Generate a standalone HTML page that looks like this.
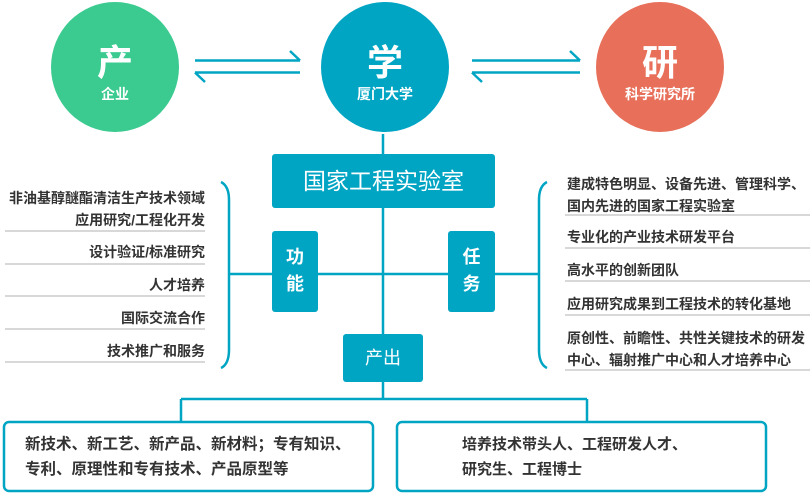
<!DOCTYPE html>
<html><head><meta charset="utf-8"><style>
body{margin:0;width:810px;height:493px;background:#fff;position:relative;overflow:hidden;font-family:"Liberation Sans","Noto Sans CJK SC",sans-serif;}
.a{position:absolute;}
.t{position:absolute;font-size:14px;font-weight:bold;color:#333;white-space:nowrap;line-height:20px;}
.box{position:absolute;background:#00a5c4;border-radius:3px;color:#fff;text-align:center;font-weight:bold;}
</style></head><body>
<svg class="a" style="left:0;top:0" width="810" height="493">
<ellipse cx="115" cy="67" rx="64" ry="65" fill="#3bcb90"/>
<ellipse cx="385" cy="67" rx="64" ry="65" fill="#00a5c4"/>
<ellipse cx="660" cy="67" rx="64" ry="65" fill="#e8705b"/>
<g stroke="#00a5c4" stroke-width="2.5" fill="none">
<path d="M195 60.5H300M290 51L300 60.5"/><path d="M195 72.5H300M205 82L195 72.5"/>
<path d="M472 60.5H580M570 51L580 60.5"/><path d="M472 72.5H580M482 82L472 72.5"/>
<path d="M383 134V382"/>
<path d="M229 274H539"/>
<path d="M221 182Q229 186 229 200V350Q229 364 221 368"/>
<path d="M547 182Q539 186 539 200V350Q539 364 547 368"/>
<path d="M383 382V399M181 399H587M181 399V422M587 399V422"/>
</g>
<rect x="4" y="422" width="369" height="69" rx="5" fill="#fff" stroke="#00a5c4" stroke-width="2.5"/>
<rect x="397" y="422" width="369" height="69" rx="5" fill="#fff" stroke="#00a5c4" stroke-width="2.5"/>
<g stroke="#ccc" stroke-width="1.5">
<path d="M5 231H205M5 264H205M5 296H205M5 329H205M5 362H205"/>
<path d="M565 215H810M565 248H810M565 281H810M565 315H810M565 370H810"/>
</g>
</svg>
<div class="a" style="left:51px;top:34px;width:128px;text-align:center;color:#fff;font-size:36px;font-weight:bold">产</div>
<div class="a" style="left:51px;top:84px;width:128px;text-align:center;color:#fff;font-size:14px;font-weight:bold">企业</div>
<div class="a" style="left:321px;top:34px;width:128px;text-align:center;color:#fff;font-size:36px;font-weight:bold">学</div>
<div class="a" style="left:321px;top:84px;width:128px;text-align:center;color:#fff;font-size:14px;font-weight:bold">厦门大学</div>
<div class="a" style="left:596px;top:34px;width:128px;text-align:center;color:#fff;font-size:36px;font-weight:bold">研</div>
<div class="a" style="left:596px;top:84px;width:128px;text-align:center;color:#fff;font-size:14px;font-weight:bold">科学研究所</div>

<div class="box" style="left:272px;top:154px;width:223px;height:54px;line-height:54px;font-size:23px;font-weight:normal">国家工程实验室</div>
<div class="box" style="left:272px;top:231px;width:46px;height:81px;font-size:18px;line-height:27px;padding-top:13px;box-sizing:border-box">功<br>能</div>
<div class="box" style="left:448px;top:231px;width:47px;height:81px;font-size:18px;line-height:27px;padding-top:13px;box-sizing:border-box">任<br>务</div>
<div class="box" style="left:343px;top:334px;width:80px;height:48px;line-height:48px;font-size:18px;font-weight:normal">产出</div>

<div class="t" style="right:605px;top:187px;text-align:right;line-height:22px">非油基醇醚酯清洁生产技术领域<br>应用研究/工程化开发</div>
<div class="t" style="right:605px;top:242px">设计验证/标准研究</div>
<div class="t" style="right:605px;top:275px">人才培养</div>
<div class="t" style="right:605px;top:308px">国际交流合作</div>
<div class="t" style="right:605px;top:341px">技术推广和服务</div>

<div class="t" style="left:567px;top:173px;line-height:22px">建成特色明显、设备先进、管理科学、<br>国内先进的国家工程实验室</div>
<div class="t" style="left:567px;top:227px">专业化的产业技术研发平台</div>
<div class="t" style="left:567px;top:260px">高水平的创新团队</div>
<div class="t" style="left:567px;top:294px">应用研究成果到工程技术的转化基地</div>
<div class="t" style="left:567px;top:327px;line-height:22px">原创性、前瞻性、共性关键技术的研发<br>中心、辐射推广中心和人才培养中心</div>

<div class="t" style="left:25px;top:432px;line-height:25px;font-size:15.5px">新技术、新工艺、新产品、新材料；专有知识、<br>专利、原理性和专有技术、产品原型等</div>
<div class="t" style="left:462px;top:432px;line-height:25px;font-size:15px">培养技术带头人、工程研发人才、<br>研究生、工程博士</div>
</body></html>
